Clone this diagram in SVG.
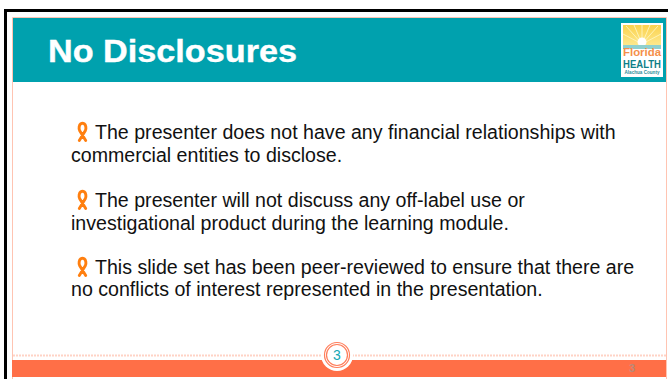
<svg xmlns="http://www.w3.org/2000/svg" width="668" height="379" viewBox="0 0 668 379">
<defs>
<linearGradient id="sky" x1="0" y1="0" x2="0" y2="1"><stop offset="0" stop-color="#fbd24e"/><stop offset="1" stop-color="#fde98f"/></linearGradient>
<g id="ribbon" fill="none" stroke="#ff7f0f" stroke-linecap="round">
<path d="M-3.2 8.5 L2.9 -1.5 C3.9 -3.6 3.4 -7 1.7 -8.2 C0.6 -8.9 -0.6 -8.9 -1.7 -8.2 C-3.4 -7 -3.9 -3.6 -2.9 -1.5 L3.2 8.5" stroke-width="2.9"/>
</g>
</defs>
<style>
.body{font-family:"Liberation Sans",Arial,sans-serif;font-size:19.6px;fill:#111111}
</style>
<rect width="668" height="379" fill="#ffffff"/>
<path d="M5.5 379V10.5H668" fill="none" stroke="#000000" stroke-width="3"/>
<path d="M12.5 379V17.5H666.5V379" fill="none" stroke="#ffc4b2" stroke-width="1"/>
<g id="header">
<rect x="13" y="18" width="653" height="64" fill="#00a1ae"/>
<text x="48" y="62" font-family="'Liberation Sans',Arial,sans-serif" font-size="32" font-weight="700" fill="#ffffff" stroke="#ffffff" stroke-width="0.4" textLength="249" lengthAdjust="spacingAndGlyphs">No Disclosures</text>
</g>
<g id="logo">
<rect x="621" y="23" width="42" height="54" fill="#ffffff"/>
<rect x="623" y="25" width="38" height="21" fill="url(#sky)"/>
<g stroke="#fff3b5" stroke-width="1"><path d="M642 44L626 26M642 44L634 25M642 44L642 25M642 44L650 25M642 44L658 26M642 44L623 34M642 44L661 34"/></g>
<circle cx="642" cy="42" r="4.5" fill="#ffffff"/>
<rect x="623" y="45" width="38" height="4" fill="#8fd0cf"/>
<text x="642" y="56" text-anchor="middle" font-family="'Liberation Sans',Arial,sans-serif" font-size="10" font-weight="700" fill="#f58f4a" textLength="38" lengthAdjust="spacingAndGlyphs">Florida</text>
<text x="642" y="67.5" text-anchor="middle" font-family="'Liberation Sans',Arial,sans-serif" font-size="11" font-weight="700" fill="#0f7f88" textLength="38" lengthAdjust="spacingAndGlyphs">HEALTH</text>
<text x="642" y="74" text-anchor="middle" font-family="'Liberation Sans',Arial,sans-serif" font-size="4.6" font-weight="700" fill="#2f8f9a">Alachua County</text>
</g>
<g id="disclosure-1">
<use href="#ribbon" x="82.5" y="132"/>
<text class="body" x="95" y="139">The presenter does not have any financial relationships with</text>
<text class="body" x="71" y="162">commercial entities to disclose.</text>
</g>
<g id="disclosure-2">
<use href="#ribbon" x="82.5" y="200"/>
<text class="body" x="95" y="207">The presenter will not discuss any off-label use or</text>
<text class="body" x="71" y="230">investigational product during the learning module.</text>
</g>
<g id="disclosure-3">
<use href="#ribbon" x="82.5" y="267"/>
<text class="body" x="95" y="274">This slide set has been peer-reviewed to ensure that there are</text>
<text class="body" x="71" y="296">no conflicts of interest represented in the presentation.</text>
</g>
<g id="footer">
<path d="M13 355.5H666" stroke="#ffd3c6" stroke-width="2" stroke-dasharray="2 1"/>
<rect x="12" y="360" width="654" height="17" fill="#ff6f47"/>
<text x="632" y="372" text-anchor="middle" font-family="'Liberation Sans',Arial,sans-serif" font-size="11" font-weight="700" fill="#b98a78">3</text>
<circle cx="337" cy="355" r="16" fill="#ffffff"/>
<circle cx="337" cy="355" r="12.5" fill="none" stroke="#ff7d5a" stroke-width="1.2"/>
<circle cx="337" cy="355" r="10.5" fill="none" stroke="#ff7d5a" stroke-width="1.2"/>
<text x="337" y="360" text-anchor="middle" font-family="'Liberation Sans',Arial,sans-serif" font-size="14" fill="#14a8b4">3</text>
</g>
</svg>
